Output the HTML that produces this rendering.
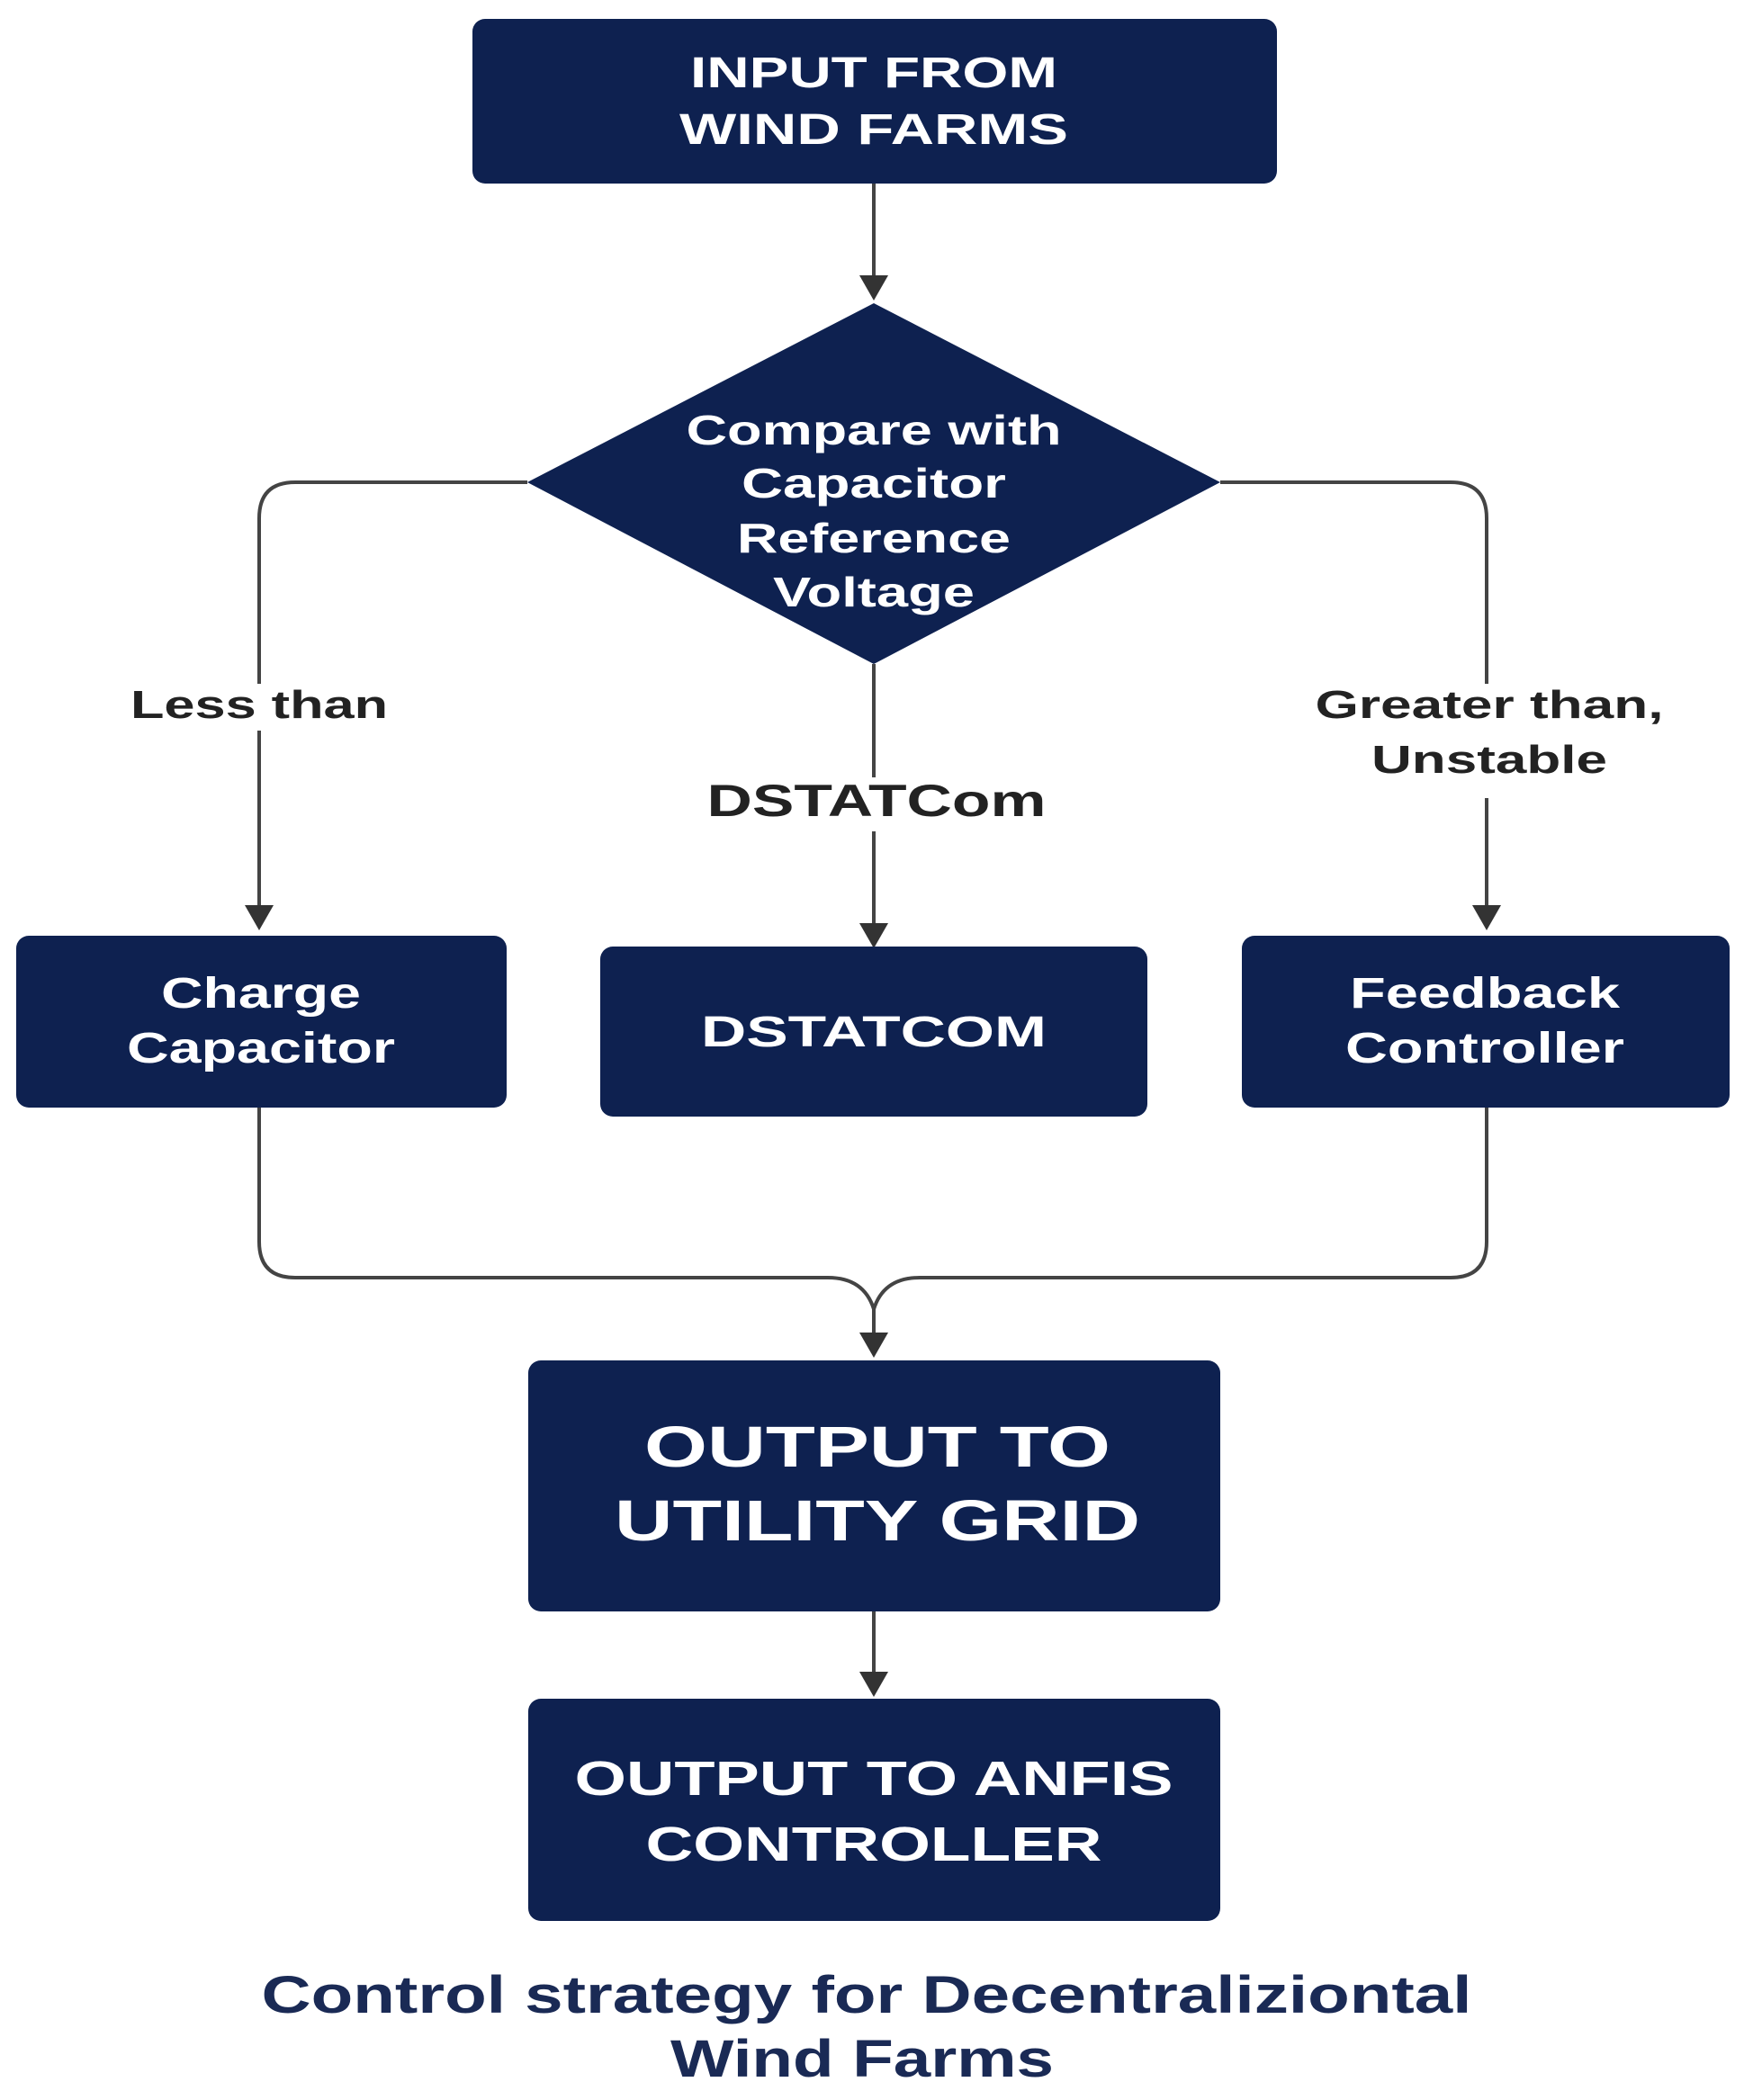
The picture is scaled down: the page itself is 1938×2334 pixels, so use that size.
<!DOCTYPE html>
<html><head><meta charset="utf-8"><style>
html,body{margin:0;padding:0;background:#fff;}
svg{display:block;}
text{font-family:"Liberation Sans",sans-serif;}
</style></head><body>
<svg width="1938" height="2334" viewBox="0 0 1938 2334" xmlns="http://www.w3.org/2000/svg">
<defs>
<marker id="ah" markerWidth="8" markerHeight="8" refX="6" refY="4" orient="auto" markerUnits="strokeWidth">
<path d="M0,0 L7,4 L0,8 z" fill="#333"/>
</marker>
</defs>
<g fill="none" stroke="#444" stroke-width="4">
<line x1="971" y1="204" x2="971" y2="330" marker-end="url(#ah)"/>
<path d="M586,536 H328 Q288,536 288,576 V760"/>
<line x1="288" y1="812" x2="288" y2="1030" marker-end="url(#ah)"/>
<line x1="971" y1="738" x2="971" y2="864"/>
<line x1="971" y1="924" x2="971" y2="1050" marker-end="url(#ah)"/>
<path d="M1356,536 H1612 Q1652,536 1652,576 V760"/>
<line x1="1652" y1="887" x2="1652" y2="1030" marker-end="url(#ah)"/>
<path d="M288,1231 V1380 Q288,1420 328,1420 H920 Q960,1420 971,1455"/>
<path d="M1652,1231 V1380 Q1652,1420 1612,1420 H1022 Q982,1420 971,1455"/>
<line x1="971" y1="1450" x2="971" y2="1505" marker-end="url(#ah)"/>
<line x1="971" y1="1791" x2="971" y2="1882" marker-end="url(#ah)"/>
</g>
<g fill="#0e2150">
<rect x="525" y="21" width="894" height="183" rx="14"/>
<polygon points="971,337 1356,536 971,738 586,536"/>
<rect x="18" y="1040" width="545" height="191" rx="14"/>
<rect x="667" y="1052" width="608" height="189" rx="14"/>
<rect x="1380" y="1040" width="542" height="191" rx="14"/>
<rect x="587" y="1512" width="769" height="279" rx="14"/>
<rect x="587" y="1888" width="769" height="247" rx="14"/>
</g>
<g fill="#fff" font-weight="bold" text-anchor="middle" lengthAdjust="spacingAndGlyphs">
<text x="971" y="97" font-size="48" textLength="408" lengthAdjust="spacingAndGlyphs">INPUT FROM</text>
<text x="971" y="160" font-size="48" textLength="432" lengthAdjust="spacingAndGlyphs">WIND FARMS</text>
<text x="971" y="494" font-size="46" textLength="417" lengthAdjust="spacingAndGlyphs">Compare with</text>
<text x="971" y="553" font-size="46" textLength="294" lengthAdjust="spacingAndGlyphs">Capacitor</text>
<text x="971" y="614" font-size="46" textLength="304" lengthAdjust="spacingAndGlyphs">Reference</text>
<text x="971" y="674" font-size="46" textLength="224" lengthAdjust="spacingAndGlyphs">Voltage</text>
<text x="290" y="1120" font-size="48" textLength="222" lengthAdjust="spacingAndGlyphs">Charge</text>
<text x="290" y="1181" font-size="48" textLength="298" lengthAdjust="spacingAndGlyphs">Capacitor</text>
<text x="971" y="1163" font-size="48" textLength="384" lengthAdjust="spacingAndGlyphs">DSTATCOM</text>
<text x="1650" y="1120" font-size="48" textLength="300" lengthAdjust="spacingAndGlyphs">Feedback</text>
<text x="1650" y="1181" font-size="48" textLength="310" lengthAdjust="spacingAndGlyphs">Controller</text>
<text x="975" y="1630" font-size="64" textLength="518" lengthAdjust="spacingAndGlyphs">OUTPUT TO</text>
<text x="975" y="1712" font-size="64" textLength="584" lengthAdjust="spacingAndGlyphs">UTILITY GRID</text>
<text x="971" y="1995" font-size="54" textLength="665" lengthAdjust="spacingAndGlyphs">OUTPUT TO ANFIS</text>
<text x="971" y="2068" font-size="54" textLength="507" lengthAdjust="spacingAndGlyphs">CONTROLLER</text>
</g>
<g fill="#222" font-weight="bold" text-anchor="middle">
<text x="288" y="798" font-size="44" textLength="286" lengthAdjust="spacingAndGlyphs">Less than</text>
<text x="974" y="907" font-size="50" textLength="377" lengthAdjust="spacingAndGlyphs">DSTATCom</text>
<text x="1655" y="798" font-size="44" textLength="387" lengthAdjust="spacingAndGlyphs">Greater than,</text>
<text x="1655" y="859" font-size="44" textLength="262" lengthAdjust="spacingAndGlyphs">Unstable</text>
</g>
<g fill="#1a2a55" font-weight="bold" text-anchor="middle">
<text x="963" y="2237" font-size="58" textLength="1345" lengthAdjust="spacingAndGlyphs">Control strategy for Decentraliziontal</text>
<text x="958" y="2308" font-size="58" textLength="426" lengthAdjust="spacingAndGlyphs">Wind Farms</text>
</g>
</svg>
</body></html>
